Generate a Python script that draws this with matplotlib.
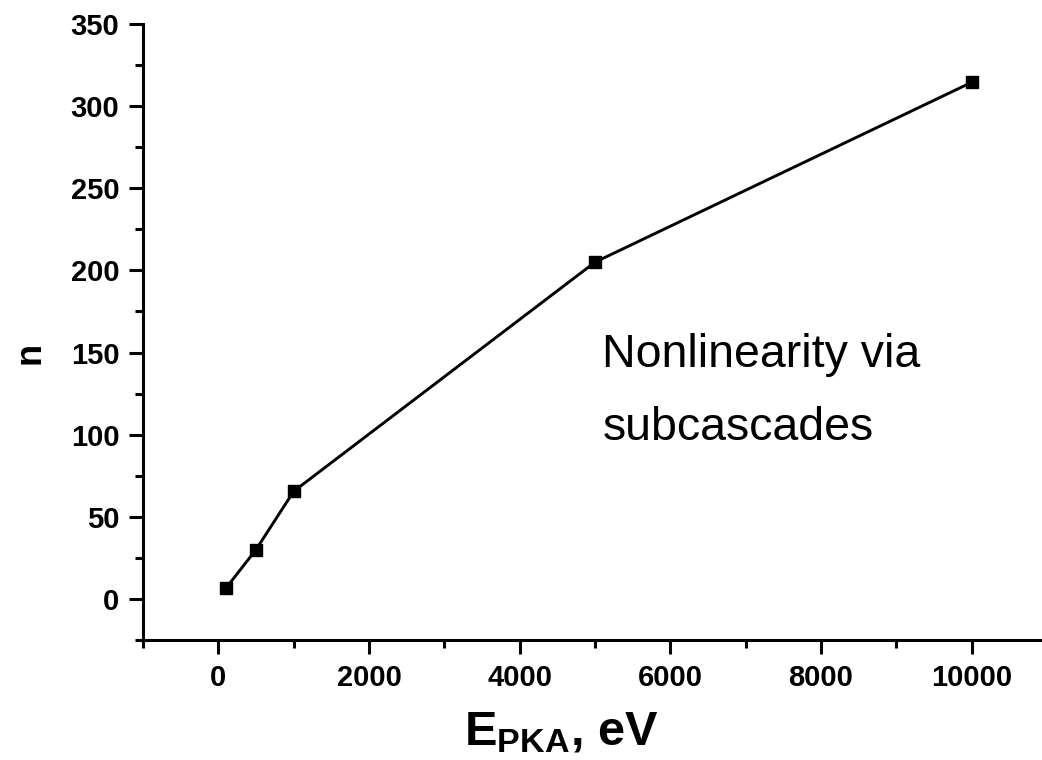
import matplotlib
matplotlib.use("Agg")
import matplotlib.pyplot as plt
from matplotlib.ticker import MultipleLocator

plt.rcParams['font.family'] = ['Liberation Sans', 'DejaVu Sans']
plt.rcParams['mathtext.fontset'] = 'custom'
plt.rcParams['mathtext.rm'] = 'Liberation Sans:bold'
plt.rcParams['mathtext.bf'] = 'Liberation Sans:bold'
plt.rcParams['mathtext.it'] = 'Liberation Sans:bold'

# Data
energy_ev = [100, 500, 1000, 5000, 10000]
n_values = [6.5, 30, 65.5, 205, 314.5]
x_ticks = [0, 2000, 4000, 6000, 8000, 10000]
y_ticks = [0, 50, 100, 150, 200, 250, 300, 350]
annotation_lines = ["Nonlinearity via", "subcascades"]

fig = plt.figure(figsize=(10.42, 7.6), dpi=100)
ax = fig.add_axes([143/1042, 1-640/760, (1047-143)/1042, (640-24)/760])

ax.plot(energy_ev, n_values, color='black', lw=2.1, marker='s', ms=9,
        mfc='black', mec='black', clip_on=False)

ax.set_xlim(-1000, 11000)
ax.set_ylim(-25, 350)
ax.set_xticks(x_ticks, labels=[str(v) for v in x_ticks], fontsize=21, fontweight='bold')
ax.set_yticks(y_ticks, labels=[str(v) for v in y_ticks], fontsize=21, fontweight='bold')
ax.xaxis.set_minor_locator(MultipleLocator(1000))
ax.yaxis.set_minor_locator(MultipleLocator(25))

for s in ['top', 'right']:
    ax.spines[s].set_visible(False)
for s in ['left', 'bottom']:
    ax.spines[s].set_linewidth(2.2)

ax.tick_params(which='major', direction='out', length=10, width=2.2, pad=7)
ax.tick_params(which='minor', direction='out', length=5.5, width=2.2)

ax.set_xlabel(r'$\mathbf{E_{PKA}}$, eV', fontsize=35, fontweight='bold', va='top')
ax.xaxis.set_label_coords(0.462, -0.114)
ax.set_ylabel('n', fontsize=26, fontweight='bold', va='center')
ax.yaxis.set_label_coords(-0.125, 0.466)

ax.text(0.508, 0.4437, annotation_lines[0], transform=ax.transAxes,
        fontsize=33.5, va='baseline', ha='left')
ax.text(0.508, 0.3247, annotation_lines[1], transform=ax.transAxes,
        fontsize=33.5, va='baseline', ha='left')

fig.savefig('out.png', dpi=100)
